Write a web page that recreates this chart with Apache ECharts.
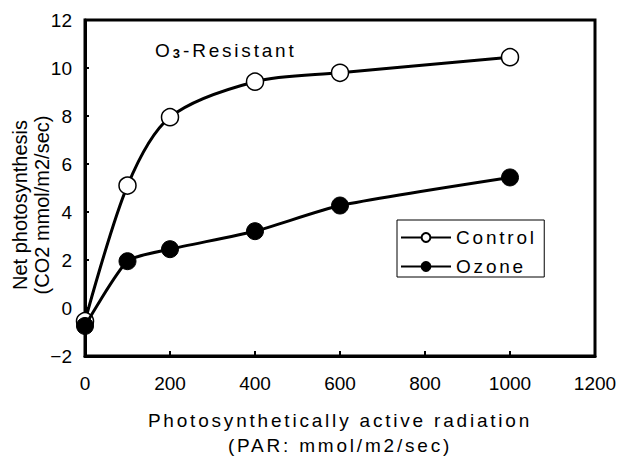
<!DOCTYPE html>
<html>
    <head>
        <meta charset="utf-8">
        <title>O3-Resistant</title>
        <script src="https://cdn.jsdelivr.net/npm/echarts@6/dist/echarts.min.js"></script>
        <style>
            html, body { margin: 0; padding: 0; background: #fff; }
            #chart1 { width: 632px; height: 457px; }
            /* 原图的标题/图例/横轴名是字距拉开的 */
            #chart1 text[style*="Arial"] { letter-spacing: 2.8px; }
        </style>
    </head>
    <body>
        <div id="chart1"></div>
    </body>
    <script type="text/javascript">
        // 数据
        var parValues = [0, 100, 200, 400, 600, 1000];
        var controlValues = [-0.55, 5.1, 7.95, 9.43, 9.8, 10.45];
        var ozoneValues = [-0.75, 1.95, 2.45, 3.2, 4.27, 5.44];
        var xTicks = [0, 200, 400, 600, 800, 1000, 1200];
        var yTicks = [-2, 0, 2, 4, 6, 8, 10, 12];

        function pairs(xs, ys) {
            return xs.map(function (x, i) { return [x, ys[i]]; });
        }

        var plain = 'Liberation Sans';   // 刻度、纵轴名
        var spaced = 'Arial';            // 加字距的文字
        var myChart1 = echarts.init(document.getElementById('chart1'), null, { renderer: 'svg' });
        var option = {
            backgroundColor: '#fff',
            animation: false,
            title: {
                text: '{a|O}{s|3}{a|-Resistant}',
                left: 155,
                top: 40,
                padding: 0,
                textStyle: {
                    rich: {
                        a: { fontSize: 19, fontFamily: spaced, color: '#000', fontWeight: 'normal', lineHeight: 20, padding: [0, 3, 0, 0] },
                        s: { fontSize: 13, fontFamily: spaced, color: '#000', lineHeight: 14, verticalAlign: 'bottom', padding: [6, 3, 0, 0] }
                    }
                }
            },
            legend: {
                orient: 'vertical',
                left: 397,
                top: 220,
                padding: [8, 27, 1, 3],
                itemGap: 10,
                itemWidth: 50,
                itemHeight: 11,
                borderColor: '#000',
                borderWidth: 1,
                borderRadius: 0,
                textStyle: { fontSize: 19, fontFamily: spaced, color: '#000' },
                data: ['Control', 'Ozone']
            },
            grid: {
                left: 85, right: 37, top: 20, bottom: 101,
                outerBoundsMode: 'none',
                containLabel: false,
                show: true,
                borderColor: '#000',
                borderWidth: 3
            },
            xAxis: {
                type: 'value',
                min: xTicks[0], max: xTicks[xTicks.length - 1], interval: xTicks[1] - xTicks[0],
                name: 'Photosynthetically active radiation\n(PAR: mmol/m2/sec)',
                nameLocation: 'middle',
                nameGap: 52,
                nameTextStyle: { fontSize: 19, fontFamily: spaced, color: '#000', lineHeight: 25 },
                axisLine: { onZero: false, lineStyle: { color: '#000', width: 3 } },
                axisTick: { inside: true, length: 5, lineStyle: { color: '#000', width: 2 } },
                axisLabel: {
                    fontSize: 19, fontFamily: plain, color: '#000', margin: 18,
                    formatter: function (v) { return String(v); }
                },
                splitLine: { show: false }
            },
            yAxis: {
                type: 'value',
                min: yTicks[0], max: yTicks[yTicks.length - 1], interval: yTicks[1] - yTicks[0],
                name: 'Net photosynthesis\n(CO2 mmol/m2/sec)',
                nameLocation: 'middle',
                nameGap: 32,
                nameMoveOverlap: false,
                nameRotate: 90,
                nameTextStyle: { fontSize: 20, fontFamily: plain, color: '#000', lineHeight: 22, padding: [0, 34, 0, 0] },
                axisLine: { onZero: false, lineStyle: { color: '#000', width: 3 } },
                axisTick: { inside: true, length: 4, lineStyle: { color: '#000', width: 2 } },
                axisLabel: {
                    fontSize: 19, fontFamily: plain, color: '#000', margin: 13,
                    formatter: function (v) { return String(v).replace('-', '\u2212'); }
                },
                splitLine: { show: false }
            },
            series: [
                {
                    name: 'Control',
                    type: 'line',
                    smooth: 0.3,
                    symbol: 'circle',
                    symbolSize: 17,
                    lineStyle: { color: '#000', width: 3 },
                    itemStyle: { color: '#fff', borderColor: '#000', borderWidth: 1.5 },
                    data: pairs(parValues, controlValues),
                    z: 3
                },
                {
                    name: 'Ozone',
                    type: 'line',
                    smooth: 0.2,
                    symbol: 'circle',
                    symbolSize: 17,
                    lineStyle: { color: '#000', width: 3 },
                    itemStyle: { color: '#000', borderColor: '#000', borderWidth: 1 },
                    data: pairs(parValues, ozoneValues),
                    z: 4
                }
            ]
        };
        myChart1.setOption(option);
    </script>
</html>
